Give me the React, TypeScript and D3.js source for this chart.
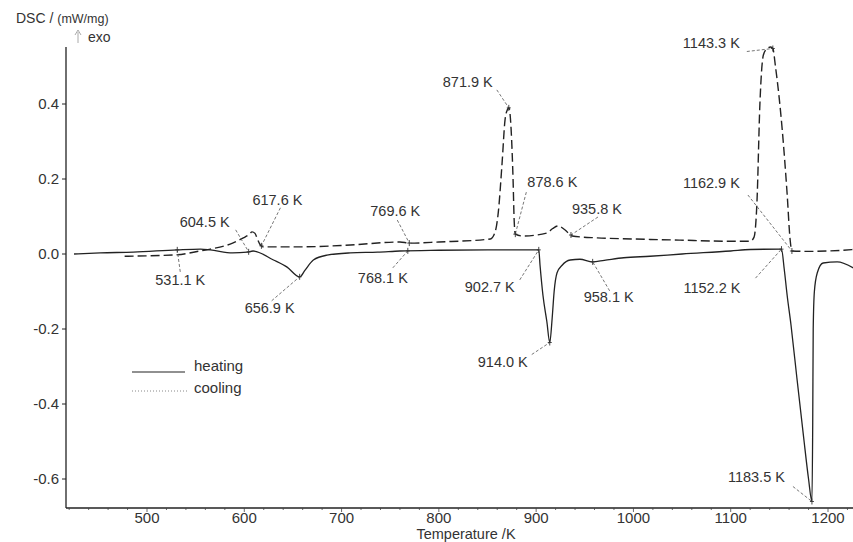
import React from 'react';
import * as d3 from 'd3';

// DSC signal, heating run (solid)
const heatingT = [425, 452, 486, 531, 555, 565, 588, 603, 609, 630, 644, 657, 662.5, 671, 685, 709, 737, 760, 800, 850,
  902.7, 904, 907, 911, 914, 916.5, 918.5, 921.5, 926.7, 935, 945, 958.1, 970, 990, 1017, 1050, 1100, 1120, 1152.2,
  1155, 1158, 1162, 1168, 1175, 1180, 1183.5, 1184.3, 1184.8, 1186, 1189, 1195, 1209.5, 1226];
const heatingDSC = [0.0, 0.003, 0.005, 0.011, 0.013, 0.011, 0.003, 0.005, 0.008, -0.016, -0.035, -0.061, -0.043, -0.016, -0.003, 0.003, 0.005, 0.008, 0.01, 0.011,
  0.011, -0.03, -0.11, -0.18, -0.236, -0.17, -0.1, -0.05, -0.03, -0.016, -0.014, -0.021, -0.017, -0.01, -0.006, 0.0, 0.008, 0.012, 0.013,
  -0.04, -0.11, -0.19, -0.33, -0.49, -0.6, -0.66, -0.45, -0.2, -0.1, -0.05, -0.024, -0.021, -0.037];

// DSC signal, cooling run (dashed)
const coolingT = [477, 531, 554.5, 565, 588, 599, 605, 608, 611, 613.5, 616.5, 619, 657, 709, 760, 770, 800, 853, 858, 861,
  865, 868, 870.5, 872, 874.3, 876.3, 877.4, 878.6, 886.6, 911, 917, 922.6, 929.8, 937, 962.7, 1000, 1048, 1100, 1120,
  1124, 1127, 1130, 1133.5, 1137, 1141, 1143.3, 1146, 1153, 1158, 1161, 1162.9, 1180, 1200, 1226];
const coolingDSC = [-0.006, -0.002, 0.008, 0.013, 0.029, 0.043, 0.052, 0.059, 0.055, 0.04, 0.024, 0.019, 0.019, 0.024, 0.032, 0.029, 0.032, 0.04, 0.06, 0.109,
  0.243, 0.357, 0.385, 0.39, 0.331, 0.197, 0.09, 0.053, 0.048, 0.056, 0.068, 0.075, 0.064, 0.048, 0.043, 0.04, 0.037, 0.034, 0.034,
  0.045, 0.14, 0.4, 0.53, 0.547, 0.552, 0.548, 0.5, 0.33, 0.16, 0.04, 0.008, 0.007, 0.008, 0.012];

const xTicks = [500, 600, 700, 800, 900, 1000, 1100, 1200];
const yTicks = [0.4, 0.2, 0.0, -0.2, -0.4, -0.6];

// characteristic temperatures and the run they sit on
const peakTemps = [531.1, 604.5, 617.6, 656.9, 769.6, 768.1, 871.9, 878.6, 902.7, 914.0, 935.8, 958.1, 1143.3, 1162.9, 1152.2, 1183.5];
const peakRun = ['heating', 'heating', 'cooling', 'heating', 'cooling', 'heating', 'cooling', 'cooling', 'heating', 'heating', 'cooling', 'heating', 'cooling', 'cooling', 'heating', 'heating'];

// label placement relative to the marked point: [text dx, baseline dy, leader dx, leader dy]
const labelLayout = [
  [-22, 35, 3, 22], [-69, -25, -13, -22], [-9, -41, 19, -38], [-55, 36, -28, 24],
  [-39, -27, -12, -23], [-50, 32, -15, 17], [-66, -21, -12, -18], [12, -47, 11, -42],
  [-74, 42, -19, 30], [-72, 24, -18, 12], [1, -21, 27, -18], [-9, 40, 17, 29],
  [-90, -1, -26, 3], [-109, -63, -44, -56], [-98, 44, -26, 29], [-84, -20, -19, -15],
];

const width = 853;
const height = 542;
const font = 'Arial, "Liberation Sans", Helvetica, sans-serif';

const x = d3.scaleLinear().domain([500, 1200]).range([147, 828]);
const y = d3.scaleLinear().domain([0, -0.6]).range([254, 479]);
const left = 66;
const bottom = 508;
const top = 47;

const valueAt = (ts: number[], vs: number[], t: number) => {
  const i = Math.max(1, Math.min(ts.length - 1, d3.bisectLeft(ts, t)));
  const k = (t - ts[i - 1]) / (ts[i] - ts[i - 1]);
  return vs[i - 1] + k * (vs[i] - vs[i - 1]);
};

const App = () => {
  const line = d3.line<[number, number]>()
    .x(d => x(d[0]))
    .y(d => y(d[1]))
    .curve(d3.curveMonotoneX);

  const heatPath = line(heatingT.map((t, i) => [t, heatingDSC[i]]));
  const coolPath = line(coolingT.map((t, i) => [t, coolingDSC[i]]));

  const minorX = d3.range(420, 1230, 20);

  return (
    <svg width={width} height={height} style={{ position: 'absolute', left: 0, top: 0, background: '#fff' }}
      fontFamily={font}>
      {/* axis titles */}
      <text x={16} y={23} fontSize={14} fill="#333">DSC / <tspan fontSize={12.5}>(mW/mg)</tspan></text>
      <line x1={78} x2={78} y1={32} y2={43} stroke="#aaa" strokeWidth={1} />
      <path d="M75,35 L78,30 L81,35" fill="none" stroke="#aaa" strokeWidth={1} />
      <text x={88} y={42} fontSize={14} fill="#333">exo</text>
      <text x={466} y={539} fontSize={14.5} fill="#333" textAnchor="middle">Temperature /K</text>

      {/* axes */}
      <line x1={left} x2={left} y1={top} y2={bottom} stroke="#222" strokeWidth={1.3} />
      <line x1={left} x2={width} y1={bottom} y2={bottom} stroke="#222" strokeWidth={1.3} />
      {yTicks.map(v => (
        <g key={v}>
          <line x1={left - 4} x2={left} y1={y(v)} y2={y(v)} stroke="#222" />
          <text x={59} y={y(v)} dy="0.35em" fontSize={15} fill="#333" textAnchor="end">{v.toFixed(1)}</text>
        </g>
      ))}
      {minorX.map(t => (
        <line key={t} x1={x(t)} x2={x(t)} y1={bottom} y2={bottom + (t % 100 === 0 ? 4 : 2)} stroke="#444" strokeWidth={0.8} />
      ))}
      {xTicks.map(t => (
        <text key={t} x={x(t)} y={523} fontSize={15} fill="#333" textAnchor="middle">{t}</text>
      ))}

      {/* curves */}
      <path d={heatPath ?? ''} fill="none" stroke="#222" strokeWidth={1.3} />
      <path d={coolPath ?? ''} fill="none" stroke="#222" strokeWidth={1.4} strokeDasharray="9,4" />

      {/* peak annotations */}
      {peakTemps.map((t, i) => {
        const run = peakRun[i] === 'heating';
        const v = run ? valueAt(heatingT, heatingDSC, t) : valueAt(coolingT, coolingDSC, t);
        const px = x(t);
        const py = y(v);
        const [tx, ty, lx, ly] = labelLayout[i];
        return (
          <g key={t}>
            <line x1={px + lx} y1={py + ly} x2={px} y2={py} stroke="#666" strokeWidth={0.9} strokeDasharray="3,2" />
            <line x1={px} x2={px} y1={py - 3} y2={py + 3} stroke="#333" strokeWidth={0.9} />
            <line x1={px - 2} x2={px + 2} y1={py} y2={py} stroke="#333" strokeWidth={0.9} />
            <text x={px + tx} y={py + ty} fontSize={14.5} fill="#333">{t.toFixed(1)} K</text>
          </g>
        );
      })}

      {/* legend */}
      <line x1={132} x2={185} y1={372} y2={372} stroke="#222" strokeWidth={1.2} />
      <text x={194} y={371} fontSize={15} fill="#333">heating</text>
      <line x1={132} x2={187} y1={391} y2={391} stroke="#888" strokeWidth={1} strokeDasharray="1,2" />
      <text x={194} y={393} fontSize={15} fill="#333">cooling</text>
    </svg>
  );
};

export default App;
